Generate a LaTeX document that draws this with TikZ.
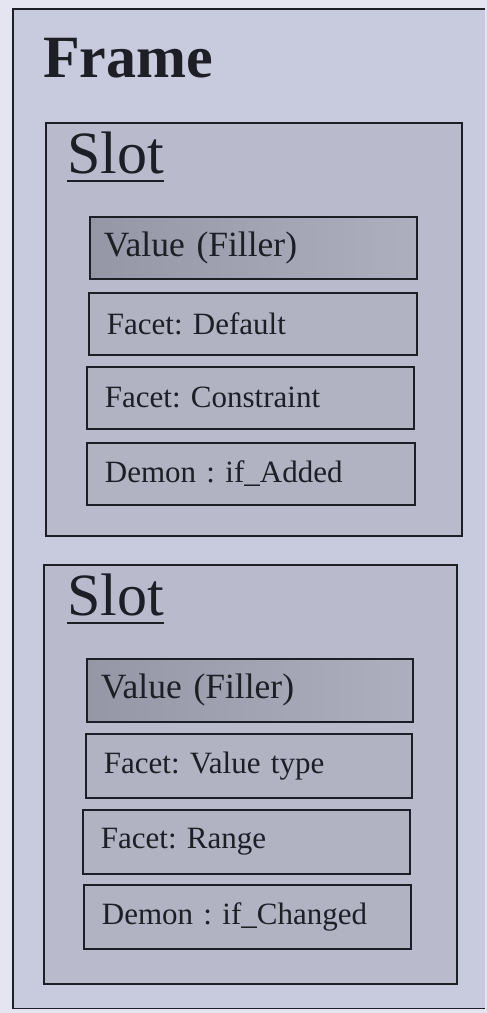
\documentclass[tikz,border=0pt]{standalone}
\usepackage{fontspec}
\setmainfont{Liberation Serif}
\frenchspacing
\definecolor{pagebg}{HTML}{E4E5F0}
\definecolor{framebg}{HTML}{C8CADD}
\definecolor{slotbg}{HTML}{B9BBCD}
\definecolor{valdark}{HTML}{9597A6}
\definecolor{vallight}{HTML}{ADAFBE}
\definecolor{facetbg}{HTML}{B1B3C3}
\definecolor{ink}{HTML}{1E1E26}
\begin{document}
\begin{tikzpicture}[x=1pt,y=-1pt,
  framebox/.style={draw=none,fill=framebg,rectangle,inner sep=0pt,anchor=north west},
  slotbox/.style={draw=ink,line width=1.6pt,fill=slotbg,rectangle,inner sep=0pt,anchor=north west},
  itembox/.style={draw=ink,line width=1.8pt,fill=facetbg,rectangle,anchor=north west,
     inner xsep=18pt,inner ysep=0pt,align=left,font=\fontsize{31}{33}\selectfont,text=ink},
  valbox/.style={itembox,left color=valdark,right color=vallight,inner xsep=14pt,font=\fontsize{35.5}{38}\selectfont},
  title/.style={anchor=base west,inner sep=0pt,text=ink},
  uline/.style={draw=ink,line width=2pt}]
\useasboundingbox (0,0) rectangle (487,1013);
\fill[pagebg] (0,0) rectangle (487,1013);
% outer frame
\node[framebox,minimum width=472pt,minimum height=999pt] (frame) at (13,9) {};
\draw[ink,line width=1.6pt] (frame.north east) -- (frame.north west) -- (frame.south west) -- (frame.south east);
\node[title,font=\bfseries\fontsize{60}{62}\selectfont] (framelab) at (43,77) {Frame};
% slot 1
\node[slotbox,minimum width=416pt,minimum height=413pt] (slot1) at (45,122) {};
\node[title,font=\fontsize{60}{62}\selectfont] (slot1lab) at (67,173) {Slot};
\draw[uline] ([yshift=-8pt]slot1lab.base west) -- ([yshift=-8pt]slot1lab.base east);
\node[valbox,text width=299pt,minimum height=62pt] (v1) at (89,216) {Value (Filler)};
\node[itembox,text width=292pt,minimum height=62pt] (f11) at (88,292) {Facet: Default};
\node[itembox,text width=291pt,minimum height=62pt] (f12) at (86,366) {Facet: Constraint};
\node[itembox,text width=292pt,minimum height=62pt] (d1) at (86,442) {Demon : if\_Added};
% slot 2
\node[slotbox,minimum width=413pt,minimum height=419pt] (slot2) at (43,564) {};
\node[title,font=\fontsize{60}{62}\selectfont] (slot2lab) at (67,615) {Slot};
\draw[uline] ([yshift=-8pt]slot2lab.base west) -- ([yshift=-8pt]slot2lab.base east);
\node[valbox,text width=298pt,minimum height=63pt] (v2) at (86,658) {Value (Filler)};
\node[itembox,text width=290pt,minimum height=64pt] (f21) at (85,733) {Facet: Value type};
\node[itembox,text width=291pt,minimum height=64pt] (f22) at (82,809) {Facet: Range};
\node[itembox,text width=291pt,minimum height=64pt] (d2) at (83,884) {Demon : if\_Changed};
\end{tikzpicture}
\end{document}
